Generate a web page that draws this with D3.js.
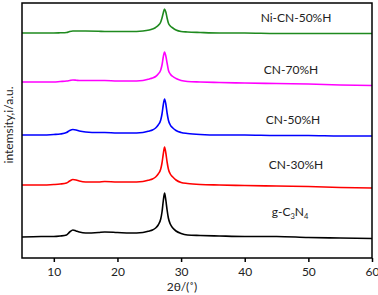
<!DOCTYPE html>
<html>
<head>
	<meta charset="utf-8">
	<title>XRD</title>
	<style>
		body { margin: 0; background: #fff; }
		text { font-family: Lato, "Open Sans", sans-serif; }
	</style>
</head>
<body>
	<svg id="chart" width="378" height="295"></svg>
<script src="https://cdn.jsdelivr.net/npm/d3@7/dist/d3.min.js"></script>
<script>
	// 2θ 采样点
	const twoTheta = [5, 8, 10, 11, 12, 12.5, 13, 13.5, 14, 15, 17, 18, 20, 22, 24, 25, 25.5, 26, 26.4, 26.8, 27, 27.2, 27.4, 27.6, 27.8, 28, 28.3, 28.7, 29.2, 30, 31, 33, 36, 40, 45, 50, 55, 60]

	// 各样品强度（相对各自基线）
	const gC3N4  = [0, 0.5, 0.5, 1, 2, 5, 7, 6, 5, 4, 4.5, 5, 4.5, 4, 4.5, 6, 7, 9, 12, 18, 25, 36, 44, 37, 27, 19, 13, 9, 6, 3.5, 2, 1.5, 1, 0.5, 0.5, -0.5, -1, -1.5]
	const cn30   = [0, 0, 0.5, 1, 2, 4, 5.5, 5, 4, 3, 3, 3.5, 3, 3, 3.5, 5, 6, 8, 11, 16, 22, 31, 38, 32, 23, 16, 11, 8, 5, 2.5, 1.5, 0.5, 0, -0.5, -1, -1.5, -2.5, -3]
	const cn50   = [0, 0, 0.5, 1, 2.5, 4.5, 5.5, 5, 4, 3, 2.5, 2.5, 2, 2, 2.5, 4, 5, 7, 10, 15, 21, 30, 36, 31, 22, 15, 10, 7, 4.5, 2.5, 1.5, 0.5, 0, 0, -0.5, -0.5, -1, -1]
	const cn70   = [0, 0, 0, 0.5, 1, 1.5, 2, 1.8, 1.5, 1.5, 1.5, 1.5, 1, 1, 1.5, 3, 4, 5.5, 8, 12, 17, 25, 30, 26, 19, 12, 8, 5.5, 3.5, 1.5, 0.5, 0, -0.5, -1, -1.5, -2, -3, -3.5]
	const niCn50 = [0, 0, 0, 0.2, 0.5, 1.5, 2, 2, 2, 2, 1.8, 1.5, 1.5, 1.5, 2, 3, 4, 5.5, 7.5, 11, 15, 20, 24, 21, 15, 10, 7, 5, 3, 1.5, 1, 0.5, 0, 0, -0.5, -0.5, -0.5, -0.5]

	// 堆叠偏移
	const offsets = [21, 73, 123, 176, 225]
	const names   = ["g-C3N4", "CN-30%H", "CN-50%H", "CN-70%H", "Ni-CN-50%H"]
	const colors  = ["#000000", "#ff0000", "#0000ff", "#ff00ff", "#1f8a1f"]
	const series  = [gC3N4, cn30, cn50, cn70, niCn50]

	const xTicks = [10, 20, 30, 40, 50, 60]

	const svg = d3.select("#chart")
	const m = { left: 22, right: 372, top: 3, bottom: 258 }

	const sx = d3.scaleLinear().domain([5, 60]).range([m.left, m.right])
	const sy = d3.scaleLinear().domain([0, 255]).range([m.bottom, m.top])

	const line = d3.line()
		.x(d => sx(d[0]))
		.y(d => sy(d[1]))
		.curve(d3.curveMonotoneX)

	// 曲线
	svg.append("g").selectAll("path").data(series).enter().append("path")
		.attr("fill", "none")
		.attr("stroke", (d, i) => colors[i])
		.attr("stroke-width", 1.6)
		.attr("d", (d, i) => line(d.map((v, j) => [twoTheta[j], v + offsets[i]])))

	// 边框
	svg.append("rect")
		.attr("x", m.left).attr("y", m.top)
		.attr("width", m.right - m.left).attr("height", m.bottom - m.top)
		.attr("fill", "none").attr("stroke", "#000").attr("stroke-width", 1.5)

	// x 轴
	const xAxis = svg.append("g")
		.attr("transform", `translate(0,${m.bottom})`)
		.call(d3.axisBottom(sx).tickValues(xTicks).tickSize(4).tickSizeOuter(0))
	xAxis.select(".domain").remove()
	xAxis.selectAll("line").attr("stroke-width", 1.5)
	xAxis.selectAll("text")
		.attr("font-family", "Lato, sans-serif")
		.attr("font-size", 12)
		.attr("fill", "#222")
		.attr("y", 9)

	svg.append("text")
		.attr("x", 182).attr("y", 291)
		.attr("text-anchor", "middle")
		.attr("font-size", 12).attr("fill", "#222")
		.text("2θ/(˚)")

	svg.append("text")
		.attr("transform", "translate(13,125) rotate(-90)")
		.attr("text-anchor", "middle")
		.attr("font-size", 12).attr("fill", "#222")
		.text("intemsity,i/a.u.")

	// 样品标注
	const labelPos = [[290, 216], [296, 169], [293, 124], [291, 74], [296, 22]]
	svg.append("g").selectAll("text").data(names).enter().append("text")
		.attr("x", (d, i) => labelPos[i][0])
		.attr("y", (d, i) => labelPos[i][1])
		.attr("text-anchor", "middle")
		.attr("font-size", 12).attr("fill", "#222")
		.each(function(d) {
			const t = d3.select(this)
			if (d === "g-C3N4") {
				t.append("tspan").text("g-C")
				t.append("tspan").attr("font-size", 7.5).attr("dy", 3).text("3")
				t.append("tspan").attr("dy", -3).text("N")
				t.append("tspan").attr("font-size", 7.5).attr("dy", 3).text("4")
			} else {
				t.text(d)
			}
		})
</script>
</body>
</html>
